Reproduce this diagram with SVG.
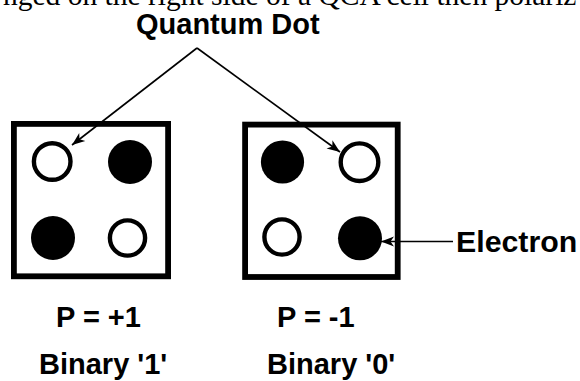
<svg xmlns="http://www.w3.org/2000/svg" width="580" height="381" viewBox="0 0 580 381">
<style>
.box{fill:#fff;stroke:#000;stroke-width:5.8}
.dot{fill:#000}
.hole{fill:#fff;stroke:#000;stroke-width:4.4}
.lbl{font-family:"Liberation Sans",Arial,sans-serif;font-weight:bold;font-size:29px;fill:#000}
.cap{font-family:"Liberation Serif","Times New Roman",serif;font-size:29.5px;fill:#000}
.con{fill:none;stroke:#000;stroke-width:1.6}
</style>
<defs>
<marker id="ah" markerUnits="userSpaceOnUse" markerWidth="14" markerHeight="12" refX="13" refY="5" orient="auto" viewBox="0 0 14 10">
<path d="M0,0 L13,5 L0,10 L3.5,5 z" fill="#000"/>
</marker>
</defs>
<rect width="580" height="381" fill="#fff"/>
<text class="cap" x="3" y="5">nged on the right side of a QCA cell then polariz</text>
<g id="label-quantum-dot"><text class="lbl" x="136" y="34">Quantum Dot</text></g>
<g id="cell-binary-1">
<rect class="box" x="13.9" y="123.9" width="154.2" height="152.4"/>
<circle class="hole" cx="52.2" cy="161.5" r="18.3"/>
<circle class="dot" cx="130" cy="162" r="22"/>
<circle class="dot" cx="53" cy="238" r="22"/>
<circle class="hole" cx="127.5" cy="238" r="17.6"/>
</g>
<g id="cell-binary-0">
<rect class="box" x="245.1" y="124.6" width="152.6" height="152.4"/>
<circle class="dot" cx="282.5" cy="162" r="21.6"/>
<circle class="hole" cx="359.5" cy="162.2" r="18.8"/>
<circle class="hole" cx="282" cy="237" r="17.6"/>
<circle class="dot" cx="360" cy="238.3" r="22"/>
</g>
<g id="label-electron"><text class="lbl" x="456" y="252" style="font-size:30.3px">Electron</text></g>
<g id="label-p1"><text class="lbl" x="56" y="327">P = +1</text></g>
<g id="label-p0"><text class="lbl" x="277" y="327">P = -1</text></g>
<g id="label-b1"><text class="lbl" x="39" y="374">Binary '1'</text></g>
<g id="label-b0"><text class="lbl" x="267" y="374">Binary '0'</text></g>
<g id="connectors">
<path class="con" d="M197,48 L72,145" marker-end="url(#ah)"/>
<path class="con" d="M197,48 L340,152" marker-end="url(#ah)"/>
<path class="con" d="M453,241.5 L381,241.5" marker-end="url(#ah)"/>
</g>
</svg>
